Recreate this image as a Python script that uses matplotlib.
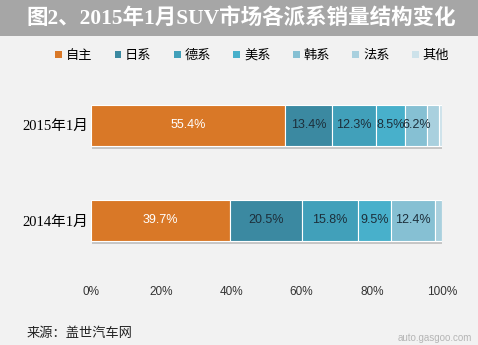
import matplotlib.pyplot as plt
import matplotlib.patheffects as pe
from matplotlib.patches import Patch, Rectangle

plt.rcParams['font.family'] = ['Liberation Sans', 'Noto Sans CJK SC', 'DejaVu Sans']

# data
periods = ['2014年1月', '2015年1月']
groups = ['自主', '日系', '德系', '美系', '韩系', '法系', '其他']
shares = {
    '自主': [39.7, 55.4],
    '日系': [20.5, 13.4],
    '德系': [15.8, 12.3],
    '美系': [9.5, 8.5],
    '韩系': [12.4, 6.2],
    '法系': [2.0, 3.4],
    '其他': [0.1, 0.8],
}
labeled = ['自主', '日系', '德系', '美系', '韩系']
colors = ['#d97827', '#3b89a1', '#41a0ba', '#48b0cb', '#86c0d3', '#a9d0de', '#cde2ea']
xticks = [0, 20, 40, 60, 80, 100]

W, H = 478, 345
fig = plt.figure(figsize=(W / 100, H / 100), dpi=100)
fig.patch.set_facecolor('#f2f2f2')

# title band
fig.patches.append(Rectangle((0, 1 - 36 / H), 1, 36 / H, transform=fig.transFigure,
                             facecolor='#a6a6a6', edgecolor='none', zorder=0))
fig.text(241 / W, 1 - 18 / H, '图2、2015年1月SUV市场各派系销量结构变化',
         family=['Liberation Serif', 'Noto Sans CJK SC'], fontsize=15.5,
         fontweight='bold', color='white', ha='center', va='center')

ax = fig.add_axes([91 / W, 1 - 275 / H, (442 - 91) / W, 200 / H])
ax.set_facecolor('#f2f2f2')

y = [0, 1]
left = [0, 0]
shadow = [pe.SimplePatchShadow(offset=(1, -2), shadow_rgbFace='#999999', alpha=0.5), pe.Normal()]
for g, c in zip(groups, colors):
    vals = shares[g]
    bars = ax.barh(y, vals, left=left, height=0.43, color=c, edgecolor='white',
                   linewidth=0.8, label=g)
    for b in bars:
        b.set_path_effects(shadow)
    if g in labeled:
        for yi, v, l in zip(y, vals, left):
            ax.text(l + v / 2, yi, f'{v:.1f}%', ha='center', va='center', fontsize=9,
                    color='white' if g == '自主' else '#1d2f3b')
    left = [l + v for l, v in zip(left, vals)]

ax.set_xlim(0, 100)
ax.set_ylim(-0.574, 1.53)
ax.set_xticks(xticks)
ax.set_xticklabels([f'{t}%' for t in xticks], fontsize=8.5, color='#333333')
ax.set_yticks(y)
ax.set_yticklabels(periods, family=['Liberation Serif', 'Noto Sans CJK SC'], fontsize=10.5)
ax.tick_params(length=0, axis='x', pad=8)
ax.tick_params(length=0, axis='y', pad=2)
for s in ax.spines.values():
    s.set_visible(False)

handles = [Patch(facecolor=c, edgecolor='none', label=g) for g, c in zip(groups, colors)]
fig.legend(handles=handles, loc='center', bbox_to_anchor=(252 / W, 1 - 56 / H), ncol=7,
           frameon=False, fontsize=9.5, handlelength=0.5, handleheight=0.5,
           handletextpad=0.3, columnspacing=1.7)

fig.text(27 / W, 1 - 334 / H, '来源：盖世汽车网', fontsize=9.5, color='#222222',
         style='italic', va='center')
fig.text(472 / W, 1 - 338 / H, 'auto.gasgoo.com', fontsize=7, color='#b5b5b5',
         ha='right', va='center')

fig.savefig('out.png', dpi=100, facecolor=fig.get_facecolor())
